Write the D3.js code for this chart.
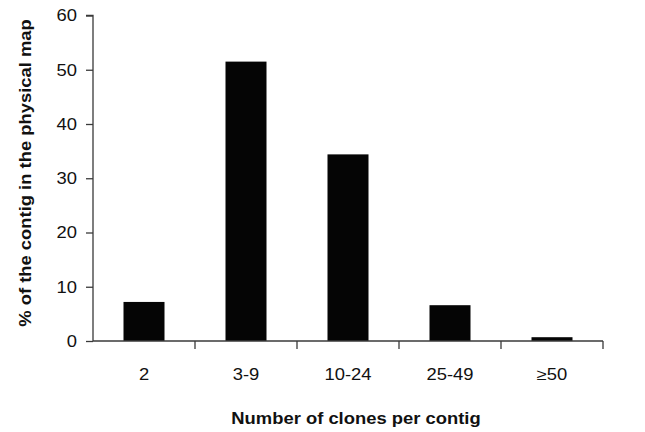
<!DOCTYPE html>
<html>
<head>
<meta charset="utf-8">
<script src="https://cdn.jsdelivr.net/npm/d3@7"></script>
<style>
  html, body { margin: 0; padding: 0; background: #fff; }
  svg { display: block; }
</style>
</head>
<body>
<script>
const categories = ["2", "3-9", "10-24", "25-49", "\u226550"];
const values = [7.2, 51.5, 34.4, 6.6, 0.7];
const yTicks = [0, 10, 20, 30, 40, 50, 60];
const xTitle = "Number of clones per contig";
const yTitle = "% of the contig in the physical map";

const W = 645, H = 432;
const margin = { left: 93, right: 42, top: 15.5, bottom: 91 };
const svg = d3.select("body").append("svg").attr("width", W).attr("height", H);

const xb = d3.scaleBand().domain(categories).range([margin.left, W - margin.right]);
const y = d3.scaleLinear().domain([0, 60]).range([H - margin.bottom, margin.top]);

const axisColor = "#3a3a3a";
const font = "'Liberation Sans', Arial, sans-serif";
const SX = 1.15;

// bars
svg.append("g").selectAll("rect").data(values).join("rect")
  .attr("x", (d, i) => xb(categories[i]) + xb.bandwidth() / 2 - 20.5)
  .attr("width", 41)
  .attr("y", d => y(d))
  .attr("height", d => y(0) - y(d))
  .attr("fill", "#050505");

// y axis
const yAxis = svg.append("g").attr("transform", `translate(${margin.left},0)`)
  .call(d3.axisLeft(y).tickValues(yTicks).tickSize(7).tickPadding(9));
yAxis.select(".domain").attr("stroke", axisColor).attr("stroke-width", 1.3).attr("d", `M-7,${y(60)}H0V${y(0)}`);
yAxis.selectAll(".tick line").attr("stroke", axisColor).attr("stroke-width", 1.3);
yAxis.selectAll(".tick text")
  .attr("x", 0).attr("transform", `translate(-16,0) scale(${SX},1)`)
  .attr("font-family", font).attr("font-size", 16).attr("fill", "#111").attr("dy", "0.34em");

// x axis
const xAxisG = svg.append("g").attr("transform", `translate(0,${y(0)})`);
xAxisG.append("line").attr("x1", margin.left).attr("x2", W - margin.right).attr("y1", 0).attr("y2", 0)
  .attr("stroke", axisColor).attr("stroke-width", 1.3);
const boundaries = categories.map(c => xb(c)).concat([xb(categories[categories.length - 1]) + xb.bandwidth()]).slice(1);
xAxisG.selectAll("line.tk").data(boundaries).join("line").attr("class", "tk")
  .attr("x1", d => d).attr("x2", d => d).attr("y1", 0).attr("y2", 8)
  .attr("stroke", axisColor).attr("stroke-width", 1.3);
xAxisG.selectAll("text").data(categories).join("text")
  .attr("transform", d => `translate(${xb(d) + xb.bandwidth() / 2},39) scale(${SX},1)`)
  .attr("text-anchor", "middle")
  .attr("font-family", font).attr("font-size", 16).attr("fill", "#111")
  .text(d => d);

// titles
svg.append("text").attr("transform", `translate(356,424) scale(${SX},1)`).attr("text-anchor", "middle")
  .attr("font-family", font).attr("font-size", 16).attr("font-weight", "bold").attr("fill", "#111")
  .text(xTitle);
svg.append("text").attr("transform", `translate(31,173) rotate(-90) scale(${SX},1)`).attr("text-anchor", "middle")
  .attr("font-family", font).attr("font-size", 16).attr("font-weight", "bold").attr("fill", "#111")
  .text(yTitle);
</script>
</body>
</html>
